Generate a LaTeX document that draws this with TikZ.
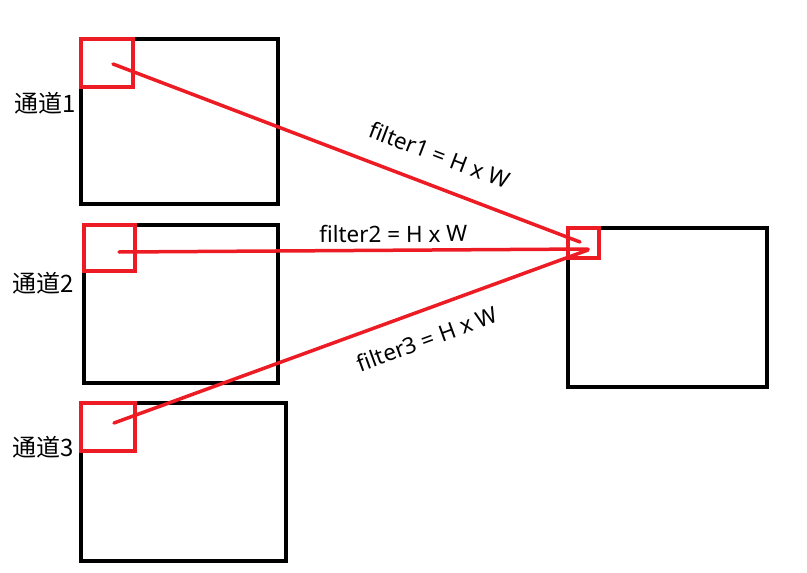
\documentclass[tikz,border=0pt]{standalone}
\usepackage{fontspec}
\setmainfont{Noto Sans}
\newfontfamily\cjk{Noto Sans CJK SC}
\usepackage{tikz}
\usetikzlibrary{positioning, calc}

\definecolor{paintred}{RGB}{237,28,36}

\begin{document}
\begin{tikzpicture}[
	x=1pt, y=-1pt,
	% Style for the channel maps
	chan/.style={
		rectangle,
		draw=black,
		line width=4pt,
		inner sep=0pt,
		outer sep=0pt
	},
	% Style for the red windows
	window/.style={
		rectangle,
		draw=paintred,
		line width=4.5pt,
		inner sep=0pt,
		outer sep=0pt
	},
	% Style for the filter lines
	filterline/.style={
		draw=paintred,
		line width=3.5pt,
		line cap=round
	},
	% Style for labels
	chlabel/.style={font=\cjk\fontsize{24}{28}\selectfont, anchor=east, inner sep=0pt},
	flabel/.style={font=\fontsize{22.5}{26}\selectfont, sloped, inner sep=0pt}
	]
	
	\useasboundingbox (0,0) rectangle (807,573);
	
	% --- NODES (CHANNELS) ---
	\node[chan, minimum width=197pt, minimum height=165pt] (C1) at (179.5,121.5) {};
	\node[chan, minimum width=194pt, minimum height=158pt] (C2) at (181,304) {};
	\node[chan, minimum width=205pt, minimum height=158pt] (C3) at (183.5,482) {};
	\node[chan, minimum width=199pt, minimum height=159pt] (Out) at (667.5,307.5) {};
	
	% --- WINDOWS ---
	\node[window, minimum width=52pt, minimum height=48pt] (W1) at (107,63) {};
	\node[window, minimum width=51pt, minimum height=46pt] (W2) at (109.5,248) {};
	\node[window, minimum width=54pt, minimum height=48pt] (W3) at (108,427) {};
	\node[window, minimum width=31pt, minimum height=30pt] (WOut) at (583.5,243) {};
	
	% --- LABELS ---
	\node[chlabel] (L1) at (76,103) {通道1};
	\node[chlabel] (L2) at (74,283) {通道2};
	\node[chlabel] (L3) at (74,447) {通道3};
	
	% --- EDGES (FILTERS) ---
	\coordinate (s1) at (113,64);
	\coordinate (s2) at (119,252);
	\coordinate (s3) at (114,423);
	\coordinate (e1) at (580,242);
	\coordinate (e2) at (588,249);
	\coordinate (e3) at (588,250);
	
	\draw[filterline] (s1) -- node[flabel, pos=0.675, above=21pt] (F1) {filter1 = H x W} (e1);
	\draw[filterline] (s2) -- node[flabel, pos=0.585, above=6pt] (F2) {filter2 = H x W} (e2);
	\draw[filterline] (s3) -- node[flabel, pos=0.64, below=18pt] (F3) {filter3 = H x W} (e3);
	
\end{tikzpicture}
\end{document}
